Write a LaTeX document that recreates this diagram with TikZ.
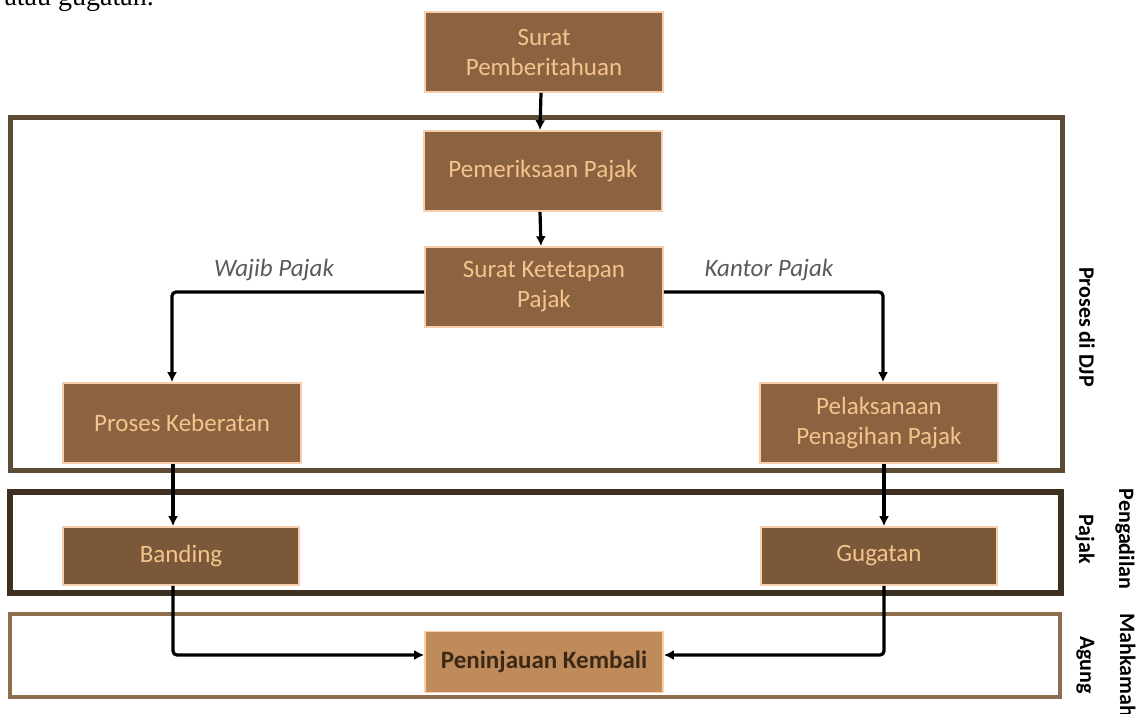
\documentclass[tikz,border=0pt]{standalone}
\usepackage{fontspec}
\setmainfont{Carlito}
\newfontfamily\serifdoc{Liberation Serif}
\usetikzlibrary{arrows.meta}
\definecolor{boxfill}{RGB}{139,99,64}
\definecolor{darkfill}{RGB}{122,88,57}
\definecolor{pkfill}{RGB}{192,139,90}
\definecolor{boxedge}{RGB}{250,206,170}
\definecolor{boxtext}{RGB}{244,196,140}
\definecolor{pktext}{RGB}{59,40,22}
\definecolor{djpframe}{RGB}{94,75,53}
\definecolor{pengframe}{RGB}{62,48,33}
\definecolor{maframe}{RGB}{142,110,76}
\definecolor{lblgray}{RGB}{90,90,90}
\tikzset{
  stepbox/.style={draw=boxedge, line width=1.6pt, fill=boxfill, text=boxtext,
    minimum width=238pt, minimum height=80pt, inner sep=0pt, align=center,
    font=\fontsize{25}{30}\selectfont},
  courtbox/.style={stepbox, fill=darkfill, minimum width=236pt, minimum height=58pt},
  finalbox/.style={stepbox, fill=pkfill, text=pktext, minimum height=61pt,
    font=\fontsize{25}{30}\selectfont\bfseries},
  conn/.style={draw=black, line width=3.2pt, rounded corners=4pt,
    -{Latex[length=10pt,width=10pt]}},
  sidelabel/.style={rotate=-90, align=center, text=black,
    font=\fontsize{22}{40}\selectfont\bfseries},
  flowlabel/.style={text=lblgray, font=\fontsize{25}{28}\selectfont\itshape}
}
\begin{document}
\begin{tikzpicture}[x=1pt,y=-1pt]
\useasboundingbox (0,0) rectangle (1142,713);
\clip (0,0) rectangle (1142,713);
\fill[white] (0,0) rectangle (1142,713);

% cut-off text from surrounding page
\node[anchor=base east, inner sep=0pt, font=\serifdoc\fontsize{28}{30}\selectfont] (prev) at (154,5) {atau gugatan.};

% frames
\draw[draw=djpframe, line width=5pt] (10,117) rectangle (1062,470);
\draw[draw=pengframe, line width=6pt] (10,492) rectangle (1061,593);
\draw[draw=maframe, line width=4.5pt] (10,614) rectangle (1060,697);

% nodes
\node[stepbox] (sp) at (544,52) {Surat\\Pemberitahuan};
\node[stepbox] (pp) at (543,171) {Pemeriksaan Pajak};
\node[stepbox] (skp) at (544,287) {Surat Ketetapan\\Pajak};
\node[stepbox] (pk) at (182,423) {Proses Keberatan};
\node[stepbox] (pel) at (879,423) {Pelaksanaan\\Penagihan Pajak};
\node[courtbox] (bd) at (181,556) {Banding};
\node[courtbox] (gg) at (879,556) {Gugatan};
\node[finalbox] (pkb) at (544,662) {Peninjauan Kembali};

% connectors
\draw[conn] ([xshift=-3pt]sp.south) -- ([xshift=-3pt]pp.north);
\draw[conn] ([xshift=-3pt]pp.south) -- ([xshift=-3pt]skp.north);
\draw[conn] ([yshift=-5pt]skp.west) -| ([xshift=-10pt]pk.north);
\draw[conn] ([yshift=-5pt]skp.east) -| ([xshift=4pt]pel.north);
\draw[conn] ([xshift=-9pt]pk.south) -- ([xshift=-8pt]bd.north);
\draw[conn] ([xshift=5pt]pel.south) -- ([xshift=5pt]gg.north);
\draw[conn] ([xshift=-8pt]bd.south) |- ([yshift=7pt]pkb.west);
\draw[conn] ([xshift=5pt]gg.south) |- ([yshift=7pt]pkb.east);

% flow labels
\node[flowlabel] (wp) at (274,270) {Wajib Pajak};
\node[flowlabel] (kp) at (769,270) {Kantor Pajak};

% side labels
\node[sidelabel] (ldjp) at (1087,327) {Proses di DJP};
\node[sidelabel] (lpeng) at (1105,539) {Pengadilan\\Pajak};
\node[sidelabel] (lma) at (1106,665) {Mahkamah\\Agung};
\end{tikzpicture}
\end{document}
